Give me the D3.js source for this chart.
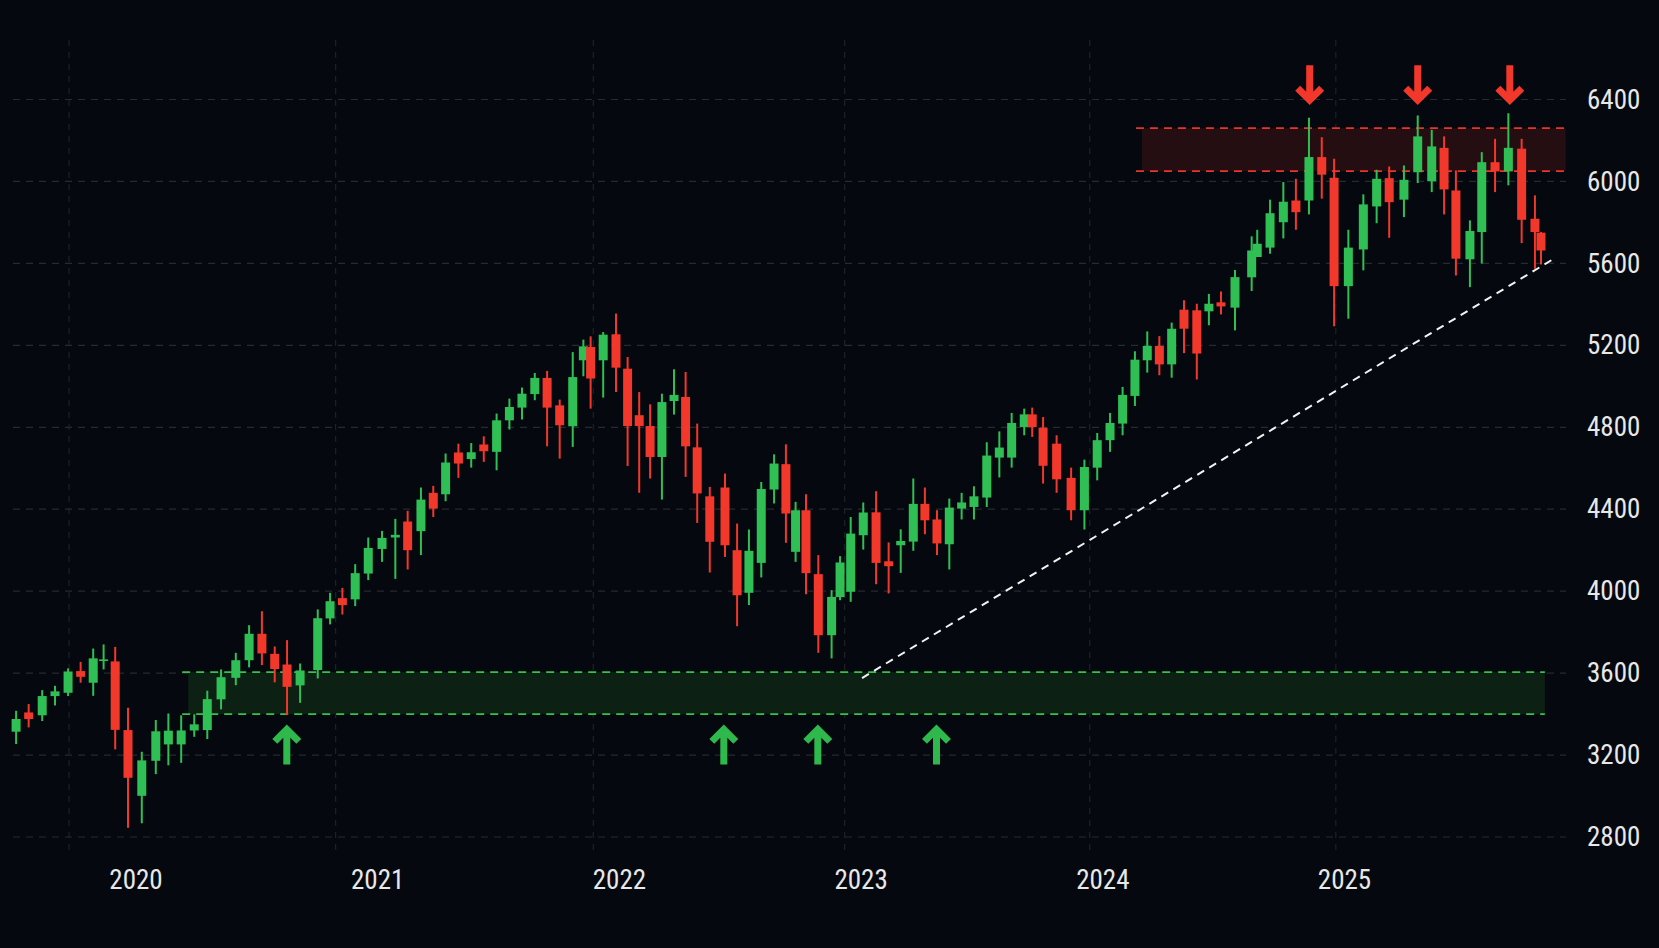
<!DOCTYPE html>
<html>
<head>
<meta charset="utf-8">
<script src="https://cdn.jsdelivr.net/npm/d3@7/dist/d3.min.js"></script>
<style>
  html, body { margin: 0; padding: 0; background: #05090f; }
  svg { display: block; }
</style>
</head>
<body>
<div class="chart"></div>
<script>
// candle times, in decimal years
const times = [
  2019.506, 2019.558, 2019.614, 2019.667, 2019.721, 2019.773, 2019.825, 2019.868, 2019.916, 2019.969,
  2020.026, 2020.084, 2020.136, 2020.189, 2020.243, 2020.297, 2020.354, 2020.415, 2020.470, 2020.523,
  2020.576, 2020.627, 2020.681, 2020.754, 2020.805, 2020.856, 2020.909, 2020.963, 2021.020, 2021.075,
  2021.126, 2021.181, 2021.232, 2021.283, 2021.336, 2021.389, 2021.441, 2021.494, 2021.547, 2021.599,
  2021.652, 2021.703, 2021.755, 2021.809, 2021.853, 2021.883, 2021.935, 2021.988, 2022.036, 2022.084,
  2022.129, 2022.178, 2022.228, 2022.276, 2022.324, 2022.376, 2022.439, 2022.489, 2022.538, 2022.589,
  2022.642, 2022.691, 2022.731, 2022.774, 2022.825, 2022.880, 2022.915, 2022.959, 2023.011, 2023.064,
  2023.116, 2023.166, 2023.218, 2023.266, 2023.316, 2023.367, 2023.418, 2023.469, 2023.522, 2023.574,
  2023.625, 2023.677, 2023.710, 2023.755, 2023.811, 2023.871, 2023.926, 2023.979, 2024.032, 2024.084,
  2024.135, 2024.186, 2024.236, 2024.287, 2024.338, 2024.391, 2024.441, 2024.491, 2024.549, 2024.618,
  2024.641, 2024.694, 2024.749, 2024.801, 2024.855, 2024.908, 2024.959, 2025.018, 2025.080, 2025.135,
  2025.187, 2025.248, 2025.305, 2025.363, 2025.414, 2025.463, 2025.521, 2025.570, 2025.625, 2025.680,
  2025.735, 2025.790, 2025.815
];
const opens = [
  3314, 3408, 3394, 3488, 3504, 3610, 3553, 3659, 3657, 3322,
  3001, 3172, 3252, 3252, 3320, 3322, 3472, 3577, 3663, 3792,
  3694, 3642, 3540, 3615, 3867, 3966, 3960, 4086, 4206, 4262,
  4340, 4293, 4480, 4473, 4677, 4645, 4716, 4680, 4834, 4896,
  4962, 5041, 4907, 4805, 5127, 5192, 5127, 5254, 5086, 4859,
  4806, 4655, 4928, 4948, 4702, 4463, 4506, 4200, 3992, 4138,
  4496, 4620, 4192, 4395, 4083, 3785, 3971, 3997, 4273, 4385,
  4146, 4224, 4242, 4426, 4350, 4229, 4403, 4411, 4457, 4652,
  4652, 4801, 4863, 4798, 4720, 4553, 4395, 4603, 4737, 4818,
  4953, 5127, 5197, 5107, 5374, 5371, 5366, 5410, 5384, 5532,
  5631, 5677, 5801, 5907, 5907, 6119, 6018, 5489, 5668, 5878,
  6016, 5911, 6045, 6001, 6164, 5956, 5620, 5753, 6094, 6049,
  6160, 5818, 5750
];
const highs = [
  3416, 3449, 3517, 3538, 3623, 3655, 3720, 3740, 3728, 3431,
  3216, 3371, 3403, 3394, 3399, 3514, 3618, 3699, 3834, 3902,
  3730, 3761, 3647, 3911, 3992, 4016, 4132, 4262, 4294, 4353,
  4392, 4506, 4514, 4672, 4720, 4723, 4756, 4867, 4940, 4994,
  5065, 5075, 4935, 5167, 5228, 5244, 5265, 5355, 5143, 4972,
  4912, 4964, 5083, 5070, 4818, 4509, 4574, 4330, 4301, 4533,
  4668, 4717, 4436, 4473, 4176, 4005, 4171, 4362, 4433, 4488,
  4238, 4302, 4550, 4506, 4395, 4452, 4480, 4512, 4727, 4780,
  4870, 4891, 4896, 4850, 4761, 4603, 4642, 4772, 4870, 4997,
  5171, 5268, 5245, 5311, 5420, 5403, 5451, 5463, 5568, 5732,
  5764, 5911, 5997, 6013, 6311, 6216, 6111, 5764, 5937, 6057,
  6073, 6078, 6322, 6252, 6220, 6054, 5810, 6143, 6208, 6333,
  6208, 5932, 5753
];
const lows = [
  3254, 3335, 3366, 3442, 3488, 3553, 3489, 3618, 3228, 2845,
  2867, 3107, 3150, 3162, 3289, 3278, 3423, 3541, 3628, 3639,
  3555, 3395, 3455, 3574, 3838, 3886, 3927, 4054, 4143, 4060,
  4106, 4176, 4362, 4439, 4553, 4603, 4631, 4590, 4789, 4838,
  4932, 4707, 4647, 4704, 5049, 4891, 4945, 4972, 4611, 4480,
  4550, 4447, 4862, 4558, 4333, 4091, 4167, 3829, 3932, 4067,
  4428, 4236, 4143, 3985, 3699, 3672, 3956, 3948, 4203, 4034,
  3989, 4089, 4197, 4278, 4176, 4106, 4350, 4350, 4411, 4555,
  4603, 4761, 4753, 4525, 4480, 4346, 4301, 4541, 4680, 4761,
  4904, 5067, 5054, 5042, 5162, 5033, 5298, 5351, 5273, 5465,
  5631, 5647, 5722, 5764, 5839, 5916, 5293, 5330, 5566, 5796,
  5725, 5826, 5992, 5948, 5839, 5541, 5484, 5599, 5948, 5981,
  5699, 5574, 5595
];
const closes = [
  3376, 3376, 3488, 3511, 3608, 3582, 3672, 3667, 3323, 3089,
  3174, 3316, 3319, 3320, 3350, 3473, 3580, 3663, 3792, 3696,
  3620, 3533, 3613, 3868, 3951, 3932, 4088, 4211, 4260, 4275,
  4200, 4447, 4403, 4628, 4623, 4678, 4683, 4834, 4899, 4964,
  5041, 4896, 4810, 5045, 5195, 5038, 5252, 5091, 4806, 4806,
  4655, 4923, 4958, 4707, 4477, 4241, 4224, 3980, 4197, 4499,
  4623, 4379, 4395, 4088, 3785, 3972, 4140, 4281, 4384, 4138,
  4122, 4245, 4426, 4346, 4233, 4408, 4433, 4463, 4662, 4701,
  4821, 4863, 4801, 4612, 4546, 4395, 4606, 4737, 4821, 4958,
  5130, 5197, 5107, 5281, 5281, 5160, 5403, 5390, 5533, 5663,
  5696, 5845, 5901, 5850, 6119, 6033, 5489, 5677, 5888, 6013,
  5899, 6008, 6220, 6171, 5961, 5623, 5758, 6094, 6049, 6164,
  5813, 5753, 5663
];

const priceTicks = [2800, 3200, 3600, 4000, 4400, 4800, 5200, 5600, 6000, 6400];
const yearTicks = [2020, 2021, 2022, 2023, 2024, 2025];
const gridYears = [2019.725, 2020.828, 2021.894, 2022.934, 2023.948, 2024.966];

// support / resistance bands: [low price, high price] and [from, to] in years
const supportBand = [3400, 3605];
const supportSpan = [2020.218, 2025.831];
const resistBand = [6050, 6260];
const resistSpan = [2024.164, 2025.917];

// rising trendline
const trendTimes = [2023.006, 2025.877];
const trendPrices = [3576, 5629];

// touch markers
const supportTouches = [2020.626, 2022.434, 2022.823, 2023.314];
const supportArrowPrice = 3335;
const resistTouches = [2024.858, 2025.305, 2025.686];
const resistArrowPrice = 6387;

const W = 1659, H = 948;
const upColor = "#2fbf55", downColor = "#f2372b";

const candles = times.map((t, i) => ({
  t: t, o: opens[i], h: highs[i], l: lows[i], c: closes[i]
}));

const x = d3.scaleLinear()
  .domain([2020, 2025])
  .range([135.5, 1344]);
const y = d3.scaleLinear()
  .domain([2800, 6400])
  .range([837, 99.5]);

const svg = d3.select(".chart").append("svg")
  .attr("width", W)
  .attr("height", H);

svg.append("rect")
  .attr("width", W).attr("height", H)
  .attr("fill", "#05090f");

// grid
svg.append("g").selectAll("line")
  .data(gridYears)
  .enter().append("line")
  .attr("x1", d => x(d)).attr("x2", d => x(d))
  .attr("y1", 40).attr("y2", 856)
  .attr("stroke", "#1d2128")
  .attr("stroke-width", 1.2)
  .attr("stroke-dasharray", "6,6");

svg.append("g").selectAll("line")
  .data(priceTicks)
  .enter().append("line")
  .attr("x1", 13).attr("x2", 1566)
  .attr("y1", d => y(d)).attr("y2", d => y(d))
  .attr("stroke", "#262a31")
  .attr("stroke-width", 1.2)
  .attr("stroke-dasharray", "7,6");

// zones
function band(range, span, fill, stroke) {
  const g = svg.append("g");
  g.append("rect")
    .attr("x", x(span[0]))
    .attr("width", x(span[1]) - x(span[0]))
    .attr("y", y(range[1]))
    .attr("height", y(range[0]) - y(range[1]))
    .attr("fill", fill);
  g.selectAll("line")
    .data(range)
    .enter().append("line")
    .attr("x1", x(span[0]) - 6).attr("x2", x(span[1]))
    .attr("y1", d => y(d)).attr("y2", d => y(d))
    .attr("stroke", stroke)
    .attr("stroke-width", 1.8)
    .attr("stroke-dasharray", "8,6");
}
band(supportBand, supportSpan, "#0d2014", "#35c24a");
band(resistBand, resistSpan, "#240e11", "#e8342c");

// candles
const cg = svg.append("g");
cg.selectAll("line.wick")
  .data(candles)
  .enter().append("line")
  .attr("class", "wick")
  .attr("x1", d => x(d.t)).attr("x2", d => x(d.t))
  .attr("y1", d => y(d.h)).attr("y2", d => y(d.l))
  .attr("stroke", d => d.c >= d.o ? upColor : downColor)
  .attr("stroke-width", 2);

cg.selectAll("rect.body")
  .data(candles)
  .enter().append("rect")
  .attr("class", "body")
  .attr("x", d => x(d.t) - 4.5)
  .attr("width", 9)
  .attr("y", d => y(Math.max(d.o, d.c)))
  .attr("height", d => Math.max(1.5, Math.abs(y(d.o) - y(d.c))))
  .attr("fill", d => d.c >= d.o ? upColor : downColor);

// trendline
svg.append("line")
  .attr("x1", x(trendTimes[0])).attr("y1", y(trendPrices[0]))
  .attr("x2", x(trendTimes[1])).attr("y2", y(trendPrices[1]))
  .attr("stroke", "#f2f2f2")
  .attr("stroke-width", 2)
  .attr("stroke-dasharray", "8,6");

// arrows
svg.append("g").selectAll("path")
  .data(supportTouches)
  .enter().append("path")
  .attr("d", d => {
    const cx = x(d), tip = y(supportArrowPrice);
    return "M" + cx + "," + (tip + 37) + "V" + (tip + 3) +
      "M" + (cx - 12) + "," + (tip + 14) + "L" + cx + "," + (tip + 2) + "L" + (cx + 12) + "," + (tip + 14);
  })
  .attr("fill", "none")
  .attr("stroke", "#2fb84c")
  .attr("stroke-width", 7);

svg.append("g").selectAll("path")
  .data(resistTouches)
  .enter().append("path")
  .attr("d", d => {
    const cx = x(d), tip = y(resistArrowPrice);
    return "M" + cx + "," + (tip - 37) + "V" + (tip - 3) +
      "M" + (cx - 12) + "," + (tip - 14) + "L" + cx + "," + (tip - 2) + "L" + (cx + 12) + "," + (tip - 14);
  })
  .attr("fill", "none")
  .attr("stroke", "#f2372b")
  .attr("stroke-width", 7);

// axes
const font = "'Liberation Sans Narrow', 'Roboto Condensed', Roboto, sans-serif";

const yAxis = svg.append("g")
  .attr("transform", "translate(1587,0)")
  .call(d3.axisRight(y).tickValues(priceTicks).tickFormat(d3.format("d")).tickSize(0).tickPadding(0));
yAxis.select(".domain").remove();
yAxis.selectAll("text")
  .attr("fill", "#e8e8e8")
  .style("font-family", font)
  .style("font-size", "27px");

const xAxis = svg.append("g")
  .attr("transform", "translate(0,870)")
  .call(d3.axisBottom(x).tickValues(yearTicks).tickFormat(d3.format("d")).tickSize(0).tickPadding(0));
xAxis.select(".domain").remove();
xAxis.selectAll("text")
  .attr("fill", "#e8e8e8")
  .style("font-family", font)
  .style("font-size", "27px");
</script>
</body>
</html>
